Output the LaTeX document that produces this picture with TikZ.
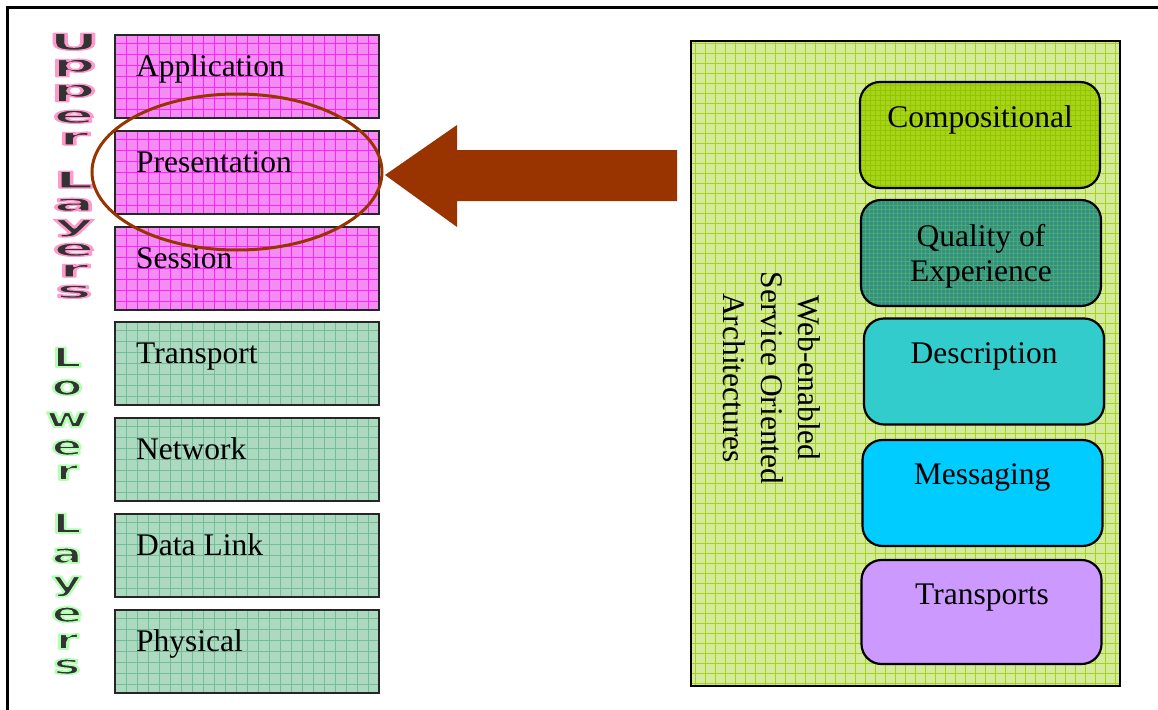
\documentclass[tikz,border=0pt]{standalone}
\usepackage{fontspec}
\setmainfont{Liberation Serif}
\newfontfamily\wafont{DejaVu Sans Bold}
\usetikzlibrary{shapes.geometric}
\definecolor{pinkfill}{HTML}{F48CF4}
\definecolor{pinkgrid}{HTML}{FF22FF}
\definecolor{greenfill}{HTML}{ADD9C1}
\definecolor{greengrid}{HTML}{72BE98}
\definecolor{panelfill}{HTML}{D3EB9B}
\definecolor{panelgrid}{HTML}{A6D21E}
\definecolor{compfill}{HTML}{A6D41A}
\definecolor{compgrid}{HTML}{94C400}
\definecolor{qoefill}{HTML}{2F9088}
\definecolor{qoegrid}{HTML}{4FA86E}
\definecolor{descfill}{HTML}{33CCCC}
\definecolor{msgfill}{HTML}{00CCFF}
\definecolor{transfill}{HTML}{CC99FF}
\definecolor{brownc}{HTML}{993300}
\definecolor{letterc}{HTML}{333333}
% glyphs filled dark and outlined in a glow colour (PDF text render mode 2)
\newcommand\glowchar[4]{\special{pdf:literal direct #1 RG #4 w 1 j 2 Tr}\scalebox{#2}[1]{#3}\special{pdf:literal direct 0 Tr}}
\tikzset{
  gridfill/.style n args={3}{fill=#1, path picture={\draw[#2, line width=0.5pt]
     (path picture bounding box.south west) grid[step=#3] (path picture bounding box.north east);}},
  lbl/.style={font=\fontsize{31.5}{36}\selectfont, inner sep=0pt, text=black},
  layerbox/.style={draw=black!85, line width=2pt, minimum width=264pt, minimum height=83pt, inner sep=0pt},
  upbox/.style={layerbox, gridfill={pinkfill}{pinkgrid}{11pt}},
  lowbox/.style={layerbox, gridfill={greenfill}{greengrid}{11pt}},
  soabox/.style={draw=black, line width=2.2pt, rounded corners=20pt, minimum width=240pt, minimum height=106pt, inner sep=0pt},
  upl/.style={anchor=base, inner sep=0pt, text=letterc, font=\fontsize{23}{23}\wafont},
  lowl/.style={anchor=base, inner sep=0pt, text=letterc, font=\fontsize{27}{27}\wafont},
}
\begin{document}
\begin{tikzpicture}[x=1pt,y=-1pt]
\useasboundingbox (0,0) rectangle (1158,709);
% outer frame
\draw[line width=3pt] (7,715) -- (7,8) -- (1165,8);

% left OSI layers
\node[upbox] (app) at (247,76.5) {};
\node[upbox] (pres) at (247,172) {};
\node[upbox] (sess) at (247,268) {};
\node[lowbox] (trans) at (247,363) {};
\node[lowbox] (net) at (247,459) {};
\node[lowbox] (dl) at (247,555) {};
\node[lowbox] (phys) at (247,651) {};

\node[lbl, anchor=base west] (tapp) at (136,76) {Application};
\node[lbl, anchor=base west] (tpres) at (136,172) {Presentation};
\node[lbl, anchor=base west] (tsess) at (136,268) {Session};
\node[lbl, anchor=base west] (ttrans) at (136,363) {Transport};
\node[lbl, anchor=base west] (tnet) at (136,459) {Network};
\node[lbl, anchor=base west] (tdl) at (136,555) {Data Link};
\node[lbl, anchor=base west] (tphys) at (136,651) {Physical};

% vertical word-art labels
\foreach \ch/\yy [count=\i] in {U/50,p/72,p/97,e/123,r/145,L/188,a/211,y/232,e/256,r/277,s/298}{
  \node[upl] (ul\i) at (74,\yy) {\glowchar{1 0.6 0.8}{2.7}{\ch}{1.3}};
}
\foreach \ch/\yy [count=\i] in {L/367,o/395,w/427,e/455,r/480,L/533,a/563,y/591,e/622,r/649,s/674}{
  \node[lowl] (ll\i) at (67,\yy) {\glowchar{0.7 1 0.7}{1.7}{\ch}{1.6}};
}

% ellipse highlight
\node[draw=brownc, line width=3pt, ellipse, minimum width=290pt, minimum height=156pt, inner sep=0pt] (ell) at (237,172) {};

% right panel
\node[draw=black, line width=2pt, minimum width=429pt, minimum height=645pt, inner sep=0pt,
      gridfill={panelfill}{panelgrid}{10pt}] (panel) at (905.5,363.5) {};
\node[lbl, rotate=-90, align=center, font=\fontsize{31.5}{37.5}\selectfont] (soa) at (772,378)
   {Web-enabled\\Service Oriented\\Architectures};

\node[soabox, gridfill={compfill}{compgrid}{5pt}] (comp) at (980,135) {};
\node[soabox, gridfill={qoefill}{qoegrid}{4pt}] (qoe) at (981,253) {};
\node[soabox, fill=descfill] (desc) at (984,371.5) {};
\node[soabox, fill=msgfill] (msg) at (982.5,493) {};
\node[soabox, fill=transfill, minimum height=104pt] (trs) at (981.5,612) {};

\node[lbl, anchor=base] (tcomp) at (980,127) {Compositional};
\node[lbl, anchor=base, align=center, font=\fontsize{31.5}{35}\selectfont] (tqoe) at (981,281) {Quality of\\Experience};
\node[lbl, anchor=base] (tdesc) at (984,363) {Description};
\node[lbl, anchor=base] (tmsg) at (982,484) {Messaging};
\node[lbl, anchor=base] (ttrs) at (982,604) {Transports};

% block arrow pointing to the highlighted layer
\coordinate (tip) at (385,175);
\fill[brownc] (tip) -- (457,125) -- (457,150) -- (677,150) -- (677,201) -- (457,201) -- (457,227) -- cycle;
\end{tikzpicture}
\end{document}
